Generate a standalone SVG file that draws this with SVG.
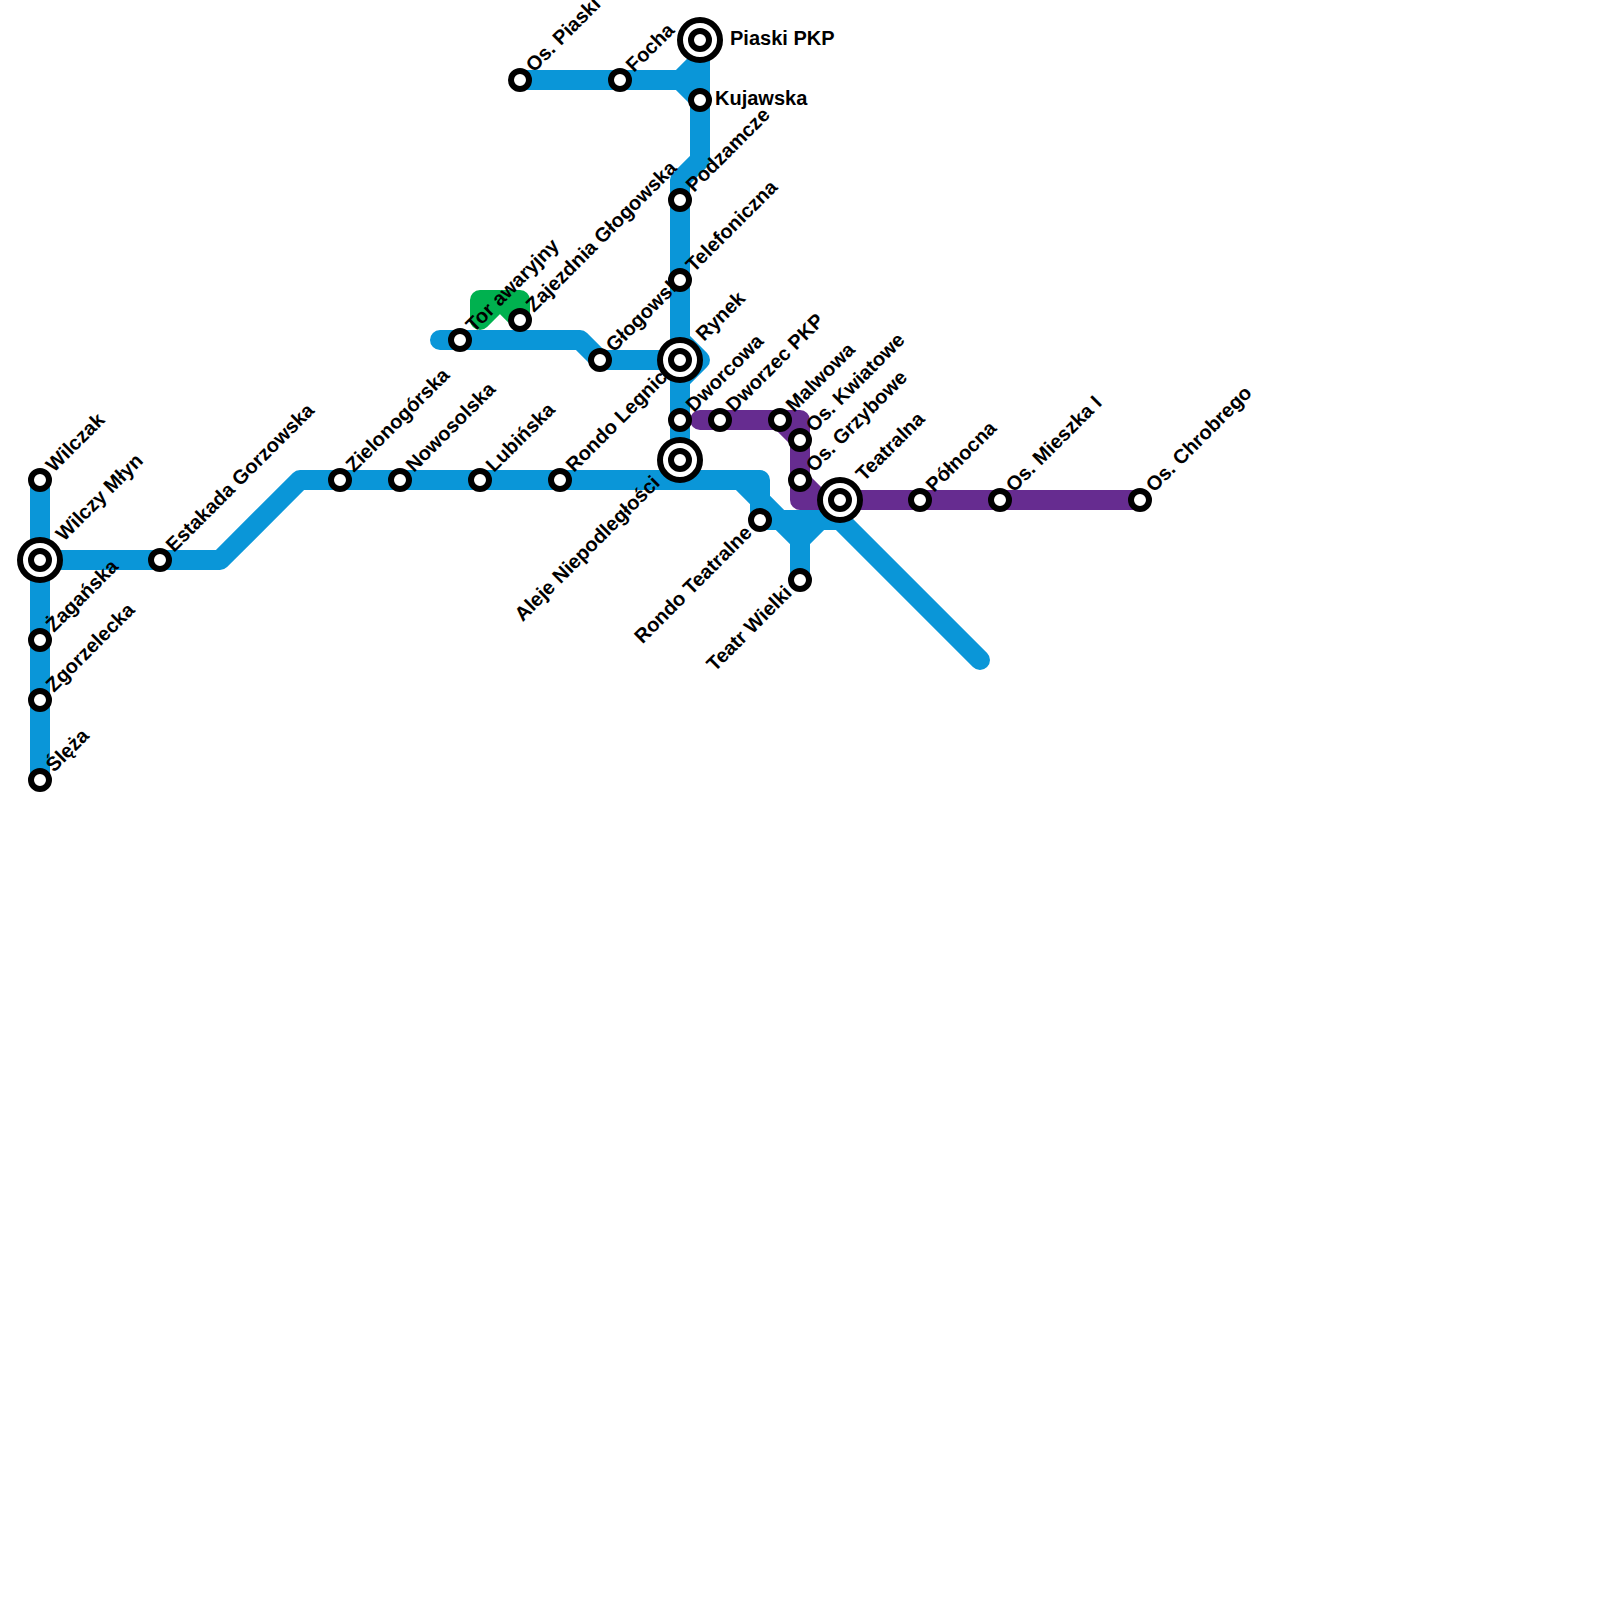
<svg xmlns="http://www.w3.org/2000/svg" width="1600" height="1600" viewBox="0 0 1600 1600">
<style>
.l{fill:none;stroke-width:20;stroke-linecap:round;stroke-linejoin:round}
.b{stroke:#0a96d8}.p{stroke:#662c90}.g{stroke:#00b14f}
text{font-family:"Liberation Sans",Arial,sans-serif;font-weight:700;font-size:20px;fill:#000}
.s circle{fill:#fff;stroke:#000;stroke-width:6}
</style>
<rect width="1600" height="1600" fill="#fff"/>
<g id="connectors">
<path class="l g" d="M480 320L500 300L520 320M480 320V300H520V320"/>
<path class="l b" d="M40 480V780M40 560H220L300 480H760V520H840L980 660M740 480L800 540V580M820 520L800 540"/>
<path class="l b" d="M520 80H680L700 60V160L680 180V460M680 80L700 100M700 40V60"/>
<path class="l b" d="M440 340H580L600 360H700L680 340M700 360L680 380"/>
<path class="l p" d="M700 420H800V500H1140M780 420L800 440M800 480L820 500"/>
</g>
<g id="labels">
<text transform="translate(54,473) rotate(-45)">Wilczak</text>
<text transform="translate(64,542) rotate(-45)">Wilczy Młyn</text>
<text transform="translate(54,633) rotate(-45)">Żagańska</text>
<text transform="translate(54,693) rotate(-45)">Zgorzelecka</text>
<text transform="translate(54,773) rotate(-45)">Ślęża</text>
<text transform="translate(174,553) rotate(-45)">Estakada Gorzowska</text>
<text transform="translate(354,473) rotate(-45)">Zielonogórska</text>
<text transform="translate(414,473) rotate(-45)">Nowosolska</text>
<text transform="translate(494,473) rotate(-45)">Lubińska</text>
<text transform="translate(574,473) rotate(-45)">Rondo Legnicka</text>
<text transform="translate(474,333) rotate(-45)">Tor awaryjny</text>
<text transform="translate(534,313) rotate(-45)">Zajezdnia Głogowska</text>
<text transform="translate(614,353) rotate(-45)">Głogowska</text>
<text transform="translate(534,73) rotate(-45)">Os. Piaski</text>
<text transform="translate(634,73) rotate(-45)">Focha</text>
<text x="730" y="45">Piaski PKP</text>
<text x="715" y="105">Kujawska</text>
<text transform="translate(694,193) rotate(-45)">Podzamcze</text>
<text transform="translate(694,273) rotate(-45)">Telefoniczna</text>
<text transform="translate(704,342) rotate(-45)">Rynek</text>
<text transform="translate(694,413) rotate(-45)">Dworcowa</text>
<text transform="translate(734,413) rotate(-45)">Dworzec PKP</text>
<text transform="translate(794,413) rotate(-45)">Malwowa</text>
<text transform="translate(814,433) rotate(-45)">Os. Kwiatowe</text>
<text transform="translate(814,473) rotate(-45)">Os. Grzybowe</text>
<text transform="translate(864,482) rotate(-45)">Teatralna</text>
<text transform="translate(934,493) rotate(-45)">Północna</text>
<text transform="translate(1014,493) rotate(-45)">Os. Mieszka I</text>
<text transform="translate(1154,493) rotate(-45)">Os. Chrobrego</text>
<text text-anchor="end" transform="translate(661,484) rotate(-45)">Aleje Niepodległości</text>
<text text-anchor="end" transform="translate(753,534) rotate(-45)">Rondo Teatralne</text>
<text text-anchor="end" transform="translate(793,594) rotate(-45)">Teatr Wielki</text>
</g>
<g id="st-wilczak" class="s"><circle cx="40" cy="480" r="9"/></g>
<g id="st-wilczy-mlyn" class="s"><circle cx="40" cy="560" r="20"/><circle cx="40" cy="560" r="9"/></g>
<g id="st-zaganska" class="s"><circle cx="40" cy="640" r="9"/></g>
<g id="st-zgorzelecka" class="s"><circle cx="40" cy="700" r="9"/></g>
<g id="st-sleza" class="s"><circle cx="40" cy="780" r="9"/></g>
<g id="st-estakada" class="s"><circle cx="160" cy="560" r="9"/></g>
<g id="st-zielonogorska" class="s"><circle cx="340" cy="480" r="9"/></g>
<g id="st-nowosolska" class="s"><circle cx="400" cy="480" r="9"/></g>
<g id="st-lubinska" class="s"><circle cx="480" cy="480" r="9"/></g>
<g id="st-rondo-legnicka" class="s"><circle cx="560" cy="480" r="9"/></g>
<g id="st-tor" class="s"><circle cx="460" cy="340" r="9"/></g>
<g id="st-zajezdnia" class="s"><circle cx="520" cy="320" r="9"/></g>
<g id="st-glogowska" class="s"><circle cx="600" cy="360" r="9"/></g>
<g id="st-os-piaski" class="s"><circle cx="520" cy="80" r="9"/></g>
<g id="st-focha" class="s"><circle cx="620" cy="80" r="9"/></g>
<g id="st-piaski-pkp" class="s"><circle cx="700" cy="40" r="20"/><circle cx="700" cy="40" r="9"/></g>
<g id="st-kujawska" class="s"><circle cx="700" cy="100" r="9"/></g>
<g id="st-podzamcze" class="s"><circle cx="680" cy="200" r="9"/></g>
<g id="st-telefoniczna" class="s"><circle cx="680" cy="280" r="9"/></g>
<g id="st-rynek" class="s"><circle cx="680" cy="360" r="20"/><circle cx="680" cy="360" r="9"/></g>
<g id="st-dworcowa" class="s"><circle cx="680" cy="420" r="9"/></g>
<g id="st-aleje" class="s"><circle cx="680" cy="460" r="20"/><circle cx="680" cy="460" r="9"/></g>
<g id="st-dworzec" class="s"><circle cx="720" cy="420" r="9"/></g>
<g id="st-malwowa" class="s"><circle cx="780" cy="420" r="9"/></g>
<g id="st-kwiatowe" class="s"><circle cx="800" cy="440" r="9"/></g>
<g id="st-grzybowe" class="s"><circle cx="800" cy="480" r="9"/></g>
<g id="st-teatralna" class="s"><circle cx="840" cy="500" r="20"/><circle cx="840" cy="500" r="9"/></g>
<g id="st-polnocna" class="s"><circle cx="920" cy="500" r="9"/></g>
<g id="st-mieszka" class="s"><circle cx="1000" cy="500" r="9"/></g>
<g id="st-chrobrego" class="s"><circle cx="1140" cy="500" r="9"/></g>
<g id="st-rondo-teatralne" class="s"><circle cx="760" cy="520" r="9"/></g>
<g id="st-teatr-wielki" class="s"><circle cx="800" cy="580" r="9"/></g>
</svg>
